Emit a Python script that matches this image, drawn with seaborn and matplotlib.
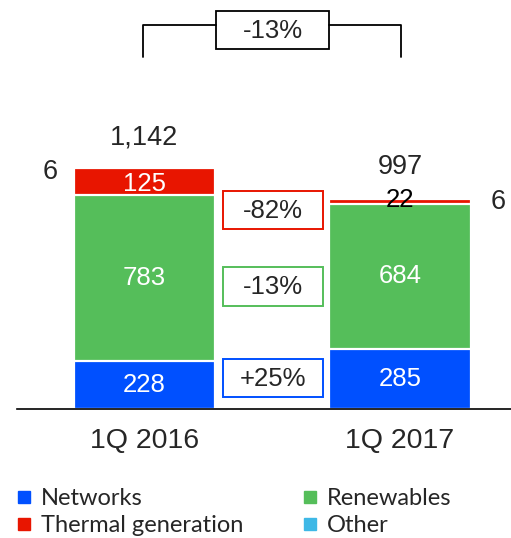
import matplotlib
matplotlib.use("Agg")
import matplotlib.pyplot as plt
from matplotlib.patches import Rectangle
from matplotlib.lines import Line2D
import pandas as pd
import seaborn as sns

# ------------------------------
# Data
# ------------------------------
periods = ["1Q 2016", "1Q 2017"]
networks = [228, 285]
renewables = [783, 684]
thermal = [125, 22]
other = [6, 6]
totals = ["1,142", "997"]
segment_names = ["Networks", "Renewables", "Thermal generation", "Other"]
segment_colors = ["#0050FF", "#55BE5A", "#E81500", "#3EB8E6"]
change_labels = ["-82%", "-13%", "+25%"]   # thermal, renewables, networks
total_change = "-13%"

# ------------------------------
# Stack the segments (cumulative, drawn top first)
# ------------------------------
df = pd.DataFrame({
    "period": periods,
    "Networks": networks,
    "Renewables": renewables,
    "Thermal generation": thermal,
    "Other": other,
})
cum = df[segment_names].cumsum(axis=1)

sns.set_style("white")
plt.rcParams["font.family"] = ["Liberation Sans", "DejaVu Sans"]
ARIAL = "Liberation Sans"

fig = plt.figure(figsize=(5.11, 5.38), dpi=100)
ax = fig.add_axes([17 / 511, (538 - 409) / 538, 494 / 511, 409 / 538])

for name, color in reversed(list(zip(segment_names, segment_colors))):
    sns.barplot(x=df["period"], y=cum[name], color=color, width=0.552,
                edgecolor="white", linewidth=1.6, ax=ax, saturation=1)

ax.set_xlim(-0.499, 1.4344)
ax.set_ylim(0, 409 / 0.2118)
ax.set_xlabel("")
ax.set_ylabel("")
ax.set_yticks([])
ax.tick_params(axis="x", length=0, pad=14)
for lbl in ax.get_xticklabels():
    lbl.set_fontfamily(ARIAL)
    lbl.set_fontsize(20.5)
for s in ["top", "right", "left"]:
    ax.spines[s].set_visible(False)
ax.spines["bottom"].set_color("black")
ax.spines["bottom"].set_linewidth(1.2)

# segment value labels
txt = dict(ha="center", va="center", fontfamily=ARIAL)
for i in range(len(periods)):
    ax.text(i, networks[i] / 2, str(networks[i]), color="white", fontsize=18.5, **txt)
    ax.text(i, networks[i] + renewables[i] / 2, str(renewables[i]),
            color="white", fontsize=18.5, **txt)
tot = cum["Other"].tolist()
ax.text(0, cum["Renewables"][0] + thermal[0] / 2 - 12, str(thermal[0]),
        color="white", fontsize=18.5, **txt)
ax.text(1, tot[1] - 10, str(thermal[1]), color="black", fontsize=18.5, **txt)
ax.text(0, tot[0] + 142, totals[0], fontsize=19.5, **txt)
ax.text(1, tot[1] + 146, totals[1], fontsize=19.5, **txt)
ax.text(-0.37, tot[0] - 23, str(other[0]), fontsize=19.5, **txt)
ax.text(1.383, tot[1] - 20, str(other[1]), fontsize=19.5, **txt)

# ------------------------------
# Overlay for change boxes and bracket (pixel coords)
# ------------------------------
ov = fig.add_axes([0, 0, 1, 1])
ov.set_xlim(0, 511)
ov.set_ylim(538, 0)
ov.axis("off")
ov.patch.set_alpha(0)

box_specs = [(191, 229, segment_colors[2]), (267, 306, segment_colors[1]),
             (359, 397, segment_colors[0])]
for (y0, y1, col), lab in zip(box_specs, change_labels):
    ov.add_patch(Rectangle((223, y0), 100, y1 - y0, fill=False,
                           edgecolor=col, linewidth=1.4))
    ov.text(273, (y0 + y1) / 2 + 1, lab, fontsize=18.5, **txt)

ov.plot([143, 143, 216], [57, 25, 25], color="black", lw=1.3)
ov.plot([329, 401, 401], [25, 25, 57], color="black", lw=1.3)
ov.add_patch(Rectangle((216, 11), 113, 38, fill=False, edgecolor="black", lw=1.3))
ov.text(272.5, 31, total_change, fontsize=18.5, **txt)

# ------------------------------
# Legend
# ------------------------------
handles = [Line2D([], [], marker="s", linestyle="none", markersize=8.5,
                  markerfacecolor=c, markeredgecolor=c) for c in segment_colors]
order = [0, 2, 1, 3]
fig.legend([handles[k] for k in order], [segment_names[k] for k in order],
           ncol=2, loc="lower left", bbox_to_anchor=(0.015, -0.014),
           frameon=False, prop={"family": "Lato", "size": 17},
           handlelength=0.6, handletextpad=0.4, columnspacing=2.55,
           labelspacing=0.25, borderaxespad=0)

fig.savefig("out.png", dpi=100)
